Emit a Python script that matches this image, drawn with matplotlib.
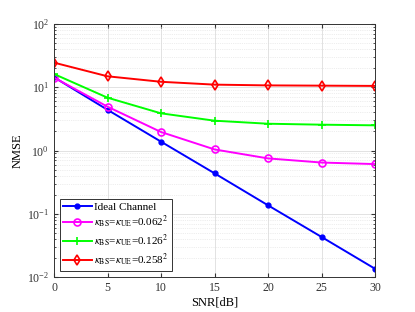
import matplotlib

matplotlib.use("Agg")
import matplotlib.pyplot as plt
from matplotlib.ticker import LogLocator, NullFormatter

plt.rcParams["font.family"] = ["Liberation Serif", "DejaVu Serif"]
plt.rcParams["mathtext.fontset"] = "stix"

snr = [0, 5, 10, 15, 20, 25, 30]
ideal = [14.4, 4.4, 1.38, 0.436, 0.136, 0.043, 0.0135]
k062 = [14.2, 4.93, 1.96, 1.04, 0.75, 0.645, 0.61]
k126 = [16.2, 6.84, 3.87, 2.96, 2.65, 2.56, 2.5]
k258 = [24.5, 14.9, 12.2, 11.0, 10.7, 10.6, 10.5]

labels = [
    "Ideal Channel",
    r"$\kappa_{\rm BS}$=$\kappa_{\rm UE}$=0.062$^2$",
    r"$\kappa_{\rm BS}$=$\kappa_{\rm UE}$=0.126$^2$",
    r"$\kappa_{\rm BS}$=$\kappa_{\rm UE}$=0.258$^2$",
]

fig = plt.figure(figsize=(4.15, 3.12), dpi=100)
ax = fig.add_axes([54 / 415, 35 / 312, 321 / 415, 253 / 312])

ax.plot(snr, ideal, "-o", color="blue", lw=1.4, ms=3.5, mfc="blue", label=labels[0])
ax.plot(snr, k062, "-o", color="magenta", lw=1.4, ms=5, mfc="none", mew=1.2, label=labels[1])
ax.plot(snr, k126, "-+", color="#00ff00", lw=1.4, ms=6, mew=1.2, label=labels[2])
ax.plot(snr, k258, "-d", color="red", lw=1.4, ms=5, mfc="none", mew=1.2, label=labels[3])

ax.set_yscale("log")
ax.set_xlim(0, 30)
ax.set_ylim(1e-2, 1e2)
ax.set_xticks(snr)
ax.yaxis.set_major_locator(LogLocator(base=10, numticks=10))
ax.yaxis.set_minor_locator(LogLocator(base=10, subs=range(2, 10), numticks=10))
ax.yaxis.set_minor_formatter(NullFormatter())

ax.grid(True, which="major", color="#dddddd", lw=0.6)
ax.grid(True, which="minor", color="#dddddd", lw=0.5, ls=":")
ax.set_axisbelow(True)
ax.tick_params(which="both", direction="in", top=True, right=True, labelsize=8.5,
               colors="#333333", length=3)
ax.tick_params(which="minor", length=1.5)
for s in ax.spines.values():
    s.set_color("#333333")
    s.set_linewidth(0.7)

ax.set_xlabel("SNR[dB]", fontsize=9, labelpad=2)
ax.set_ylabel("NMSE", fontsize=9, labelpad=2)

leg = ax.legend(loc="lower left", fontsize=8, fancybox=False, framealpha=1,
                edgecolor="#333333", borderpad=0.3, labelspacing=0.2,
                handlelength=2.6, handletextpad=0.2, borderaxespad=0.5)
leg.get_frame().set_linewidth(0.7)

fig.savefig("out.png", dpi=100)
